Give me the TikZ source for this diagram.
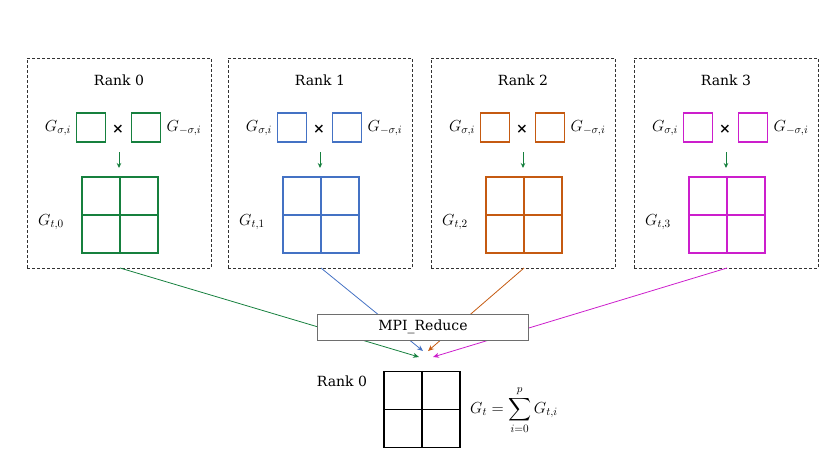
\documentclass[tikz,border=0pt]{standalone}
\usepackage{fix-cm}
\usepackage{amsmath,amssymb}
\usepackage{fontspec}
\setmainfont{DejaVu Serif}
\usetikzlibrary{arrows.meta}
\definecolor{rgreen}{RGB}{22,128,62}
\definecolor{rblue}{RGB}{68,114,196}
\definecolor{rorange}{RGB}{197,90,17}
\definecolor{rmagenta}{RGB}{204,30,204}
\definecolor{rgray}{RGB}{50,50,50}
\definecolor{bgray}{RGB}{110,110,110}

\tikzset{
  rankbox/.style={draw=rgray,line width=0.8pt,dash pattern=on 3pt off 2pt,
    minimum width=184pt,minimum height=210pt,inner sep=0pt},
  sq/.style={draw=#1,line width=1.2pt,minimum size=29pt,inner sep=0pt},
  cell/.style={draw=#1,line width=1.1pt,minimum size=76pt,inner sep=0pt},
  smallarrow/.style={-{Stealth[length=5pt,width=4.5pt]},line width=1pt,color=rgreen},
  gather/.style={-{Stealth[length=6pt,width=5pt]},line width=0.8pt,color=#1},
  mathlbl/.style={font=\fontsize{16}{18}\selectfont},
}

\begin{document}
\begin{tikzpicture}[x=1pt,y=-1pt,font=\fontsize{14}{16}\selectfont]
\useasboundingbox (0,0) rectangle (830,467);

% one box per rank
\foreach \i/\xo/\col/\tx/\ty in {0/27/rgreen/419/357,1/228/rblue/423/351,2/431/rorange/428/351,3/634/rmagenta/433/357}{
    \pgfmathsetmacro\cx{\xo+92}
    \node[rankbox] (rank\i) at (\cx,163) {};
    \node (title\i) at (\cx,80) {Rank \i};

    \node[sq=\col] (gl\i) at (\cx-28,127.5) {};
    \node[sq=\col] (gr\i) at (\cx+27,127.5) {};
    \node (times\i) at (\cx-1,129) {\bfseries\fontsize{14}{14}\selectfont ×};
    \node[mathlbl] (lsig\i) at (\cx-61,128) {$G_{\sigma,i}$};
    \node[mathlbl] (rsig\i) at (\cx+65,128) {$G_{-\sigma,i}$};

    \coordinate (up\i) at (\cx,152);
    \coordinate (dn\i) at (\cx,168);
    \draw[smallarrow] (up\i) -- (dn\i);

    \node[cell=\col] (grid\i) at (\cx+1,215) {};
    \draw[\col,line width=1.1pt] (grid\i.north) -- (grid\i.south);
    \draw[\col,line width=1.1pt] (grid\i.west) -- (grid\i.east);
    \node[mathlbl] (gt\i) at (\cx-68,222) {$G_{t,\i}$};

    \coordinate (tip\i) at (\tx,\ty);
    \coordinate (out\i) at (\cx+1,268);
    \draw[gather=\col] (out\i) -- (tip\i);
}

\node[draw=bgray,line width=1pt,fill=white,minimum width=211pt,minimum height=26pt,inner sep=0pt] (reduce) at (423,327) {MPI\_Reduce};

% result on rank 0
\node (rankres) at (342,381) {Rank 0};
\node[cell=black,line width=1.4pt] (result) at (422,409.5) {};
\draw[black,line width=1.4pt] (result.north) -- (result.south);
\draw[black,line width=1.4pt] (result.west) -- (result.east);
\node[mathlbl] (sum) at (514,410) {$\displaystyle G_t=\sum_{i=0}^{p} G_{t,i}$};
\end{tikzpicture}
\end{document}
